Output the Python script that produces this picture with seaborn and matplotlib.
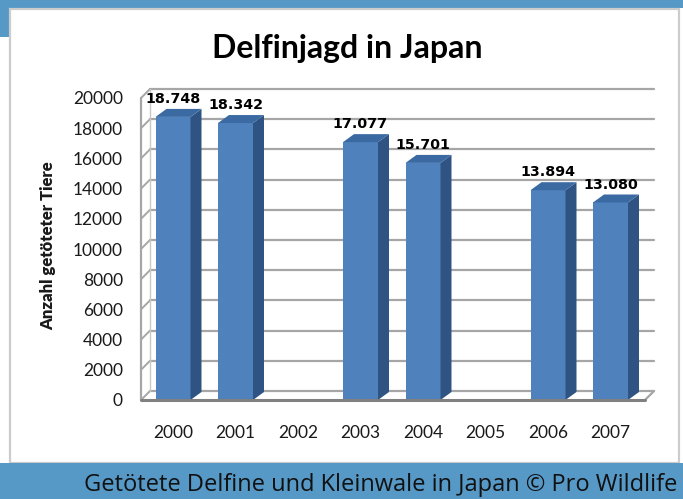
import matplotlib
matplotlib.use("Agg")
import matplotlib.pyplot as plt
from matplotlib.patches import Rectangle, Polygon
from matplotlib.lines import Line2D
from matplotlib.transforms import IdentityTransform
import seaborn as sns
import pandas as pd

# ---- data ----
years = ["2000", "2001", "2002", "2003", "2004", "2005", "2006", "2007"]
bar_years = ["2000", "2001", "2003", "2004", "2006", "2007"]
counts = [18748, 18342, 17077, 15701, 13894, 13080]
value_labels = ["18.748", "18.342", "17.077", "15.701", "13.894", "13.080"]
y_ticks = [0, 2000, 4000, 6000, 8000, 10000, 12000, 14000, 16000, 18000, 20000]

title = "Delfinjagd in Japan"
y_title = "Anzahl getöteter Tiere"
footer = "Getötete Delfine und Kleinwale in Japan © Pro Wildlife"

df = pd.DataFrame({"Jahr": bar_years, "Anzahl": counts})

W, H = 683, 499
sns.set_theme(style="white")
plt.rcParams["font.family"] = ["Lato", "DejaVu Sans"]

fig = plt.figure(figsize=(W / 100, H / 100), dpi=100)
fig.patch.set_facecolor("white")

BLUE = "#5698c6"
# background frame
fig.add_artist(Rectangle((0, 1 - 8 / H), 1, 8 / H, transform=fig.transFigure,
                         facecolor=BLUE, edgecolor="none", zorder=0))
fig.add_artist(Rectangle((0, 1 - 37 / H), 9 / W, 37 / H, transform=fig.transFigure,
                         facecolor=BLUE, edgecolor="none", zorder=0))
fig.add_artist(Rectangle((9.5 / W, 36 / H), (679 - 9.5) / W, (H - 8.5 - 36) / H,
                         transform=fig.transFigure, facecolor="white",
                         edgecolor="#cccccc", linewidth=1.6, zorder=0))
fig.add_artist(Rectangle((0, 0), 1, 36 / H, transform=fig.transFigure,
                         facecolor=BLUE, edgecolor="none", zorder=0))

# axes: front floor edge y=400 px, 20000 at y=98 px; x from 141 to 645 px
left_px, right_px, top_px, bottom_px = 141, 645, 98, 400
ax = fig.add_axes([left_px / W, (H - bottom_px) / H,
                   (right_px - left_px) / W, (bottom_px - top_px) / H])
ax.set_facecolor("none")

sns.barplot(data=df, x="Jahr", y="Anzahl", order=years, color="#4f81bd",
            saturation=1, width=0.56, ax=ax, zorder=3, edgecolor="none")

# category spacing 62.5 px: compute xlim so that 2000 sits at x=173 px
step = 62.5
ax.set_xlim((left_px - 173) / step, (right_px - 173) / step)
ax.set_ylim(0, 20000)
ax.set_yticks(y_ticks)
for s in ax.spines.values():
    s.set_visible(False)
ax.tick_params(axis="both", length=0, labelsize=12.5, labelcolor="#1a1a1a")
ax.tick_params(axis="y", pad=13)
ax.tick_params(axis="x", pad=18)
ax.set_xlabel("")
ax.set_ylabel(y_title, fontsize=12, fontweight="heavy", color="#1a1a1a")
ax.yaxis.set_label_coords(-0.168, 0.51)

fig.canvas.draw()
T = ax.transData
ident = IdentityTransform()

# 3D walls
wdx, wdy = 9, 9
x0, x1 = ax.get_xlim()
GRID = "#a6a6a6"
for v in y_ticks:
    (px0, py), = T.transform([(x0, v)])
    (px1, _), = T.transform([(x1, v)])
    ax.add_line(Line2D([px0 + wdx, px1 + wdx], [py + wdy, py + wdy], transform=ident,
                       color=GRID, lw=1.6, zorder=1, clip_on=False))
    ax.add_line(Line2D([px0, px0 + wdx], [py, py + wdy], transform=ident,
                       color=GRID, lw=1.4, zorder=1, clip_on=False))
(pbx, pby0), = T.transform([(x0, 0)])
(_, pby1), = T.transform([(x0, 20000)])
(pbx1, _), = T.transform([(x1, 0)])
ax.add_line(Line2D([pbx, pbx], [pby0, pby1], transform=ident, color=GRID,
                   lw=1.6, zorder=1, clip_on=False))
ax.add_line(Line2D([pbx + wdx, pbx + wdx], [pby0 + wdy, pby1 + wdy], transform=ident,
                   color="#c8c8c8", lw=1.0, zorder=1, clip_on=False))
ax.add_line(Line2D([pbx1, pbx1 + wdx], [pby0, pby0 + wdy], transform=ident,
                   color=GRID, lw=1.6, zorder=1, clip_on=False))
ax.add_line(Line2D([pbx, pbx1], [pby0, pby0], transform=ident,
                   color="#808080", lw=2.2, zorder=6, clip_on=False))

# 3D bar faces
bdx, bdy = 11, 8
for p, lab in zip(ax.patches, value_labels):
    bx, bw, bh = p.get_x(), p.get_width(), p.get_height()
    (l, b), (r, t) = T.transform([(bx, 0), (bx + bw, bh)])
    side = Polygon([(r, b), (r + bdx, b + bdy), (r + bdx, t + bdy), (r, t)],
                   closed=True, transform=ident, facecolor="#2f5483",
                   edgecolor="none", zorder=3, clip_on=False)
    top = Polygon([(l, t), (r, t), (r + bdx, t + bdy), (l + bdx, t + bdy)],
                  closed=True, transform=ident, facecolor="#3b6aa3",
                  edgecolor="none", zorder=3, clip_on=False)
    ax.add_patch(side)
    ax.add_patch(top)
    ax.annotate(lab, xy=(bx + bw / 2, bh), xytext=(0, 10), textcoords="offset points",
                ha="center", va="baseline", fontsize=10.3, fontweight="bold",
                family="DejaVu Sans", color="black", zorder=7, annotation_clip=False)

fig.text(347 / W, 1 - 58 / H, title, ha="center", va="baseline",
         fontsize=23, fontweight="bold", color="black")
fig.text(677 / W, 1 - 491 / H, footer, ha="right", va="baseline",
         fontsize=17, color="#111111", family=["Open Sans", "DejaVu Sans"])

fig.savefig("out.png", dpi=100)
